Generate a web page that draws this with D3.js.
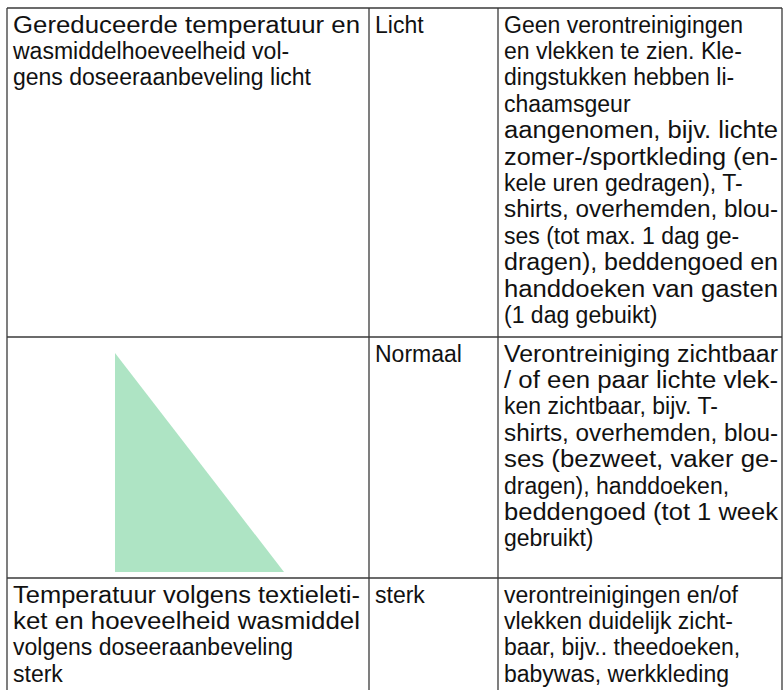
<!DOCTYPE html>
<html><head><meta charset="utf-8">
<script src="https://cdn.jsdelivr.net/npm/d3@7"></script>
<style>html,body{margin:0;padding:0;background:#fff;overflow:hidden}</style>
</head><body>
<svg id="c" width="784" height="690"></svg>
<script>
// ---- data ----
const treatment = [
  ["Gereduceerde temperatuur en", "wasmiddelhoeveelheid vol-", "gens doseeraanbeveling licht"],
  [],
  ["Temperatuur volgens textieleti-", "ket en hoeveelheid wasmiddel", "volgens doseeraanbeveling", "sterk"]
];
const levels = ["Licht", "Normaal", "sterk"];
const descriptions = [
  ["Geen verontreinigingen", "en vlekken te zien. Kle-", "dingstukken hebben li-", "chaamsgeur", "aangenomen, bijv. lichte", "zomer-/sportkleding (en-", "kele uren gedragen), T-", "shirts, overhemden, blou-", "ses (tot max. 1 dag ge-", "dragen), beddengoed en", "handdoeken van gasten", "(1 dag gebuikt)"],
  ["Verontreiniging zichtbaar", "/ of een paar lichte vlek-", "ken zichtbaar, bijv. T-", "shirts, overhemden, blou-", "ses (bezweet, vaker ge-", "dragen), handdoeken,", "beddengoed (tot 1 week", "gebruikt)"],
  ["verontreinigingen en/of", "vlekken duidelijk zicht-", "baar, bijv.. theedoeken,", "babywas, werkkleding"]
];
// wedge indicating increasing intensity (relative coordinates within cell, 0..1)
const wedge = [[0, 0], [0, 1], [1, 1]];

// ---- layout ----
const svg = d3.select("#c");
const colX = [7, 369, 498, 782];
const rowY = [8, 337, 578, 700];
const lineH = 26.4, firstBase = 24.5, padL = 6;
const padR = [9, 5, 4];
const font = "Liberation Sans, Arial, Helvetica, sans-serif", fs = 23;

// wedge
const wx = d3.scaleLinear().domain([0, 1]).range([115, 284]);
const wy = d3.scaleLinear().domain([0, 1]).range([353, 572]);
svg.append("path")
  .attr("d", d3.line().x(d => wx(d[0])).y(d => wy(d[1]))(wedge) + "Z")
  .attr("fill", "#aee4c4");

// grid lines
const g = svg.append("g").attr("stroke", "#3a3a3a").attr("stroke-width", 1.3).attr("fill", "none");
colX.forEach(x => g.append("line").attr("x1", x).attr("x2", x).attr("y1", rowY[0]).attr("y2", 690));
rowY.slice(0, 3).forEach(y => g.append("line").attr("x1", colX[0]).attr("x2", colX[3]).attr("y1", y).attr("y2", y));

// text (justified like the source: near-full lines stretched toward the cell width)
const cols = [treatment, levels.map(d => [d]), descriptions];
cols.forEach((col, ci) => {
  const avail = colX[ci + 1] - colX[ci] - padL - padR[ci];
  col.forEach((lines, ri) => {
    svg.append("g").selectAll("text").data(lines).join("text")
      .attr("font-family", font).attr("font-size", fs).attr("fill", "#111")
      .attr("x", colX[ci] + padL)
      .attr("y", (d, i) => rowY[ri] + firstBase + i * lineH)
      .text(d => d)
      .each(function (d, i) {
        const w = this.getComputedTextLength();
        if (w > avail * 0.875 || w > avail) {
          d3.select(this).attr("textLength", Math.min(avail, w * 1.15))
            .attr("lengthAdjust", "spacingAndGlyphs");
        }
      });
  });
});
</script>
</body></html>
